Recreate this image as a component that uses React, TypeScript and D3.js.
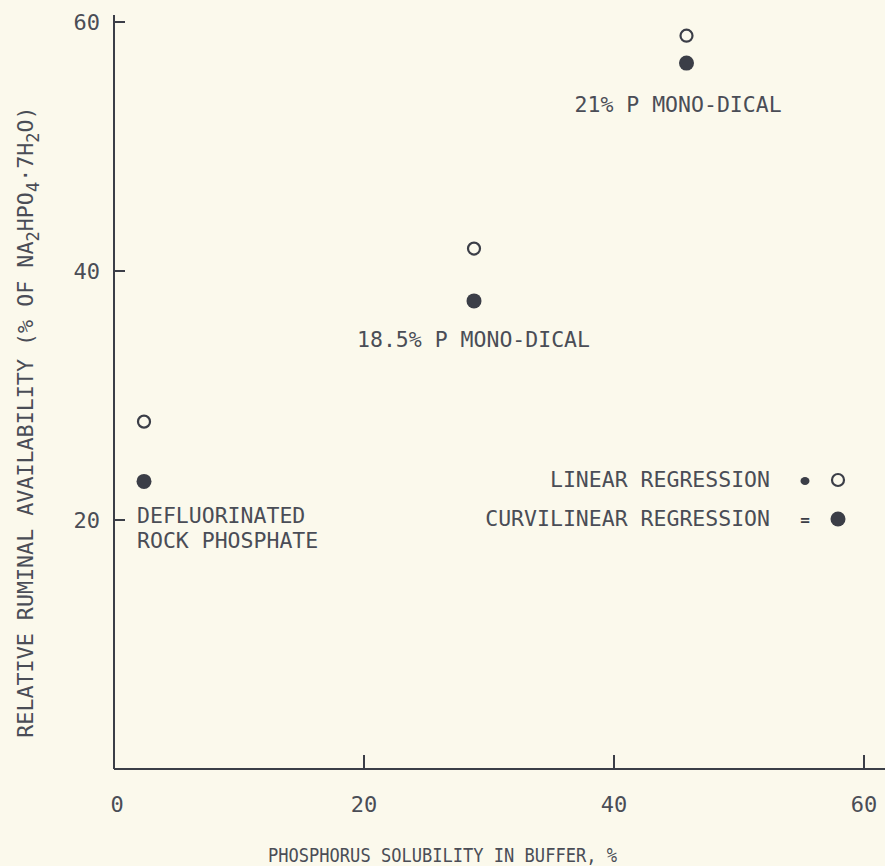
import React, { useEffect, useRef } from "react";
import * as d3 from "d3";

// Phosphorus sources and their buffer solubility (%)
const sources = ["DEFLUORINATED ROCK PHOSPHATE", "18.5% P MONO-DICAL", "21% P MONO-DICAL"];
const solubility = [2.4, 28.8, 45.8];
// Relative ruminal availability estimated by each regression
const linearRA = [27.9, 41.8, 58.9];
const curvilinearRA = [23.1, 37.6, 56.7];

const xTicks = [0, 20, 40, 60];
const yTicks = [20, 40, 60];

const W = 885;
const H = 866;
const PAPER = "#fbf9ec";
const INK = "#3b3e47";
const TEXT = "#4a4d56";
const FONT = "'DejaVu Sans Mono', monospace";
const FS = 21.5;

export default function App() {
  const ref = useRef<SVGSVGElement | null>(null);

  useEffect(() => {
    document.body.style.margin = "0";
    document.body.style.background = PAPER;
    const svg = d3.select(ref.current);
    svg.selectAll("*").remove();

    const x = d3.scaleLinear().domain([0, 60]).range([114, 864]);
    const y = d3.scaleLinear().domain([0, 60]).range([769, 22]);

    svg.append("rect").attr("width", W).attr("height", H).attr("fill", PAPER);

    const g = svg.append("g");

    // axes
    g.append("line")
      .attr("x1", x(0)).attr("x2", x(0))
      .attr("y1", 15).attr("y2", y(0))
      .attr("stroke", INK).attr("stroke-width", 2);
    g.append("line")
      .attr("x1", x(0)).attr("x2", W)
      .attr("y1", y(0)).attr("y2", y(0))
      .attr("stroke", INK).attr("stroke-width", 2);

    // y ticks
    yTicks.forEach((t) => {
      g.append("line")
        .attr("x1", x(0)).attr("x2", x(0) + 11)
        .attr("y1", y(t)).attr("y2", y(t))
        .attr("stroke", INK).attr("stroke-width", 2);
      g.append("text")
        .attr("x", x(0) - 14).attr("y", y(t) + 8)
        .attr("text-anchor", "end")
        .attr("font-family", FONT).attr("font-size", 22)
        .attr("fill", TEXT)
        .text(t);
    });

    // x ticks
    xTicks.forEach((t) => {
      if (t > 0) {
        g.append("line")
          .attr("x1", x(t)).attr("x2", x(t))
          .attr("y1", y(0)).attr("y2", y(0) - 14)
          .attr("stroke", INK).attr("stroke-width", 2);
      }
      g.append("text")
        .attr("x", x(t) + (t === 0 ? 3 : 0)).attr("y", 812)
        .attr("text-anchor", "middle")
        .attr("font-family", FONT).attr("font-size", 22)
        .attr("fill", TEXT)
        .text(t);
    });

    // axis titles
    g.append("text")
      .attr("x", 268).attr("y", 862)
      .attr("font-family", FONT).attr("font-size", 20)
      .attr("textLength", 349)
      .attr("lengthAdjust", "spacingAndGlyphs")
      .attr("fill", TEXT)
      .text("PHOSPHORUS SOLUBILITY IN BUFFER, %");

    const yt = g.append("text")
      .attr("transform", "translate(33,422) rotate(-90)")
      .attr("text-anchor", "middle")
      .attr("font-family", FONT).attr("font-size", 21.7)
      .attr("fill", TEXT);
    const parts: [string, boolean][] = [
      ["RELATIVE RUMINAL AVAILABILITY (% OF NA", false],
      ["2", true],
      ["HPO", false],
      ["4", true],
      ["\u00B77H", false],
      ["2", true],
      ["O)", false],
    ];
    let shifted = false;
    parts.forEach(([s, sub]) => {
      const dy = sub ? 6 : shifted ? -6 : 0;
      yt.append("tspan")
        .attr("font-size", sub ? 17 : 21.7)
        .attr("dy", dy)
        .text(s);
      shifted = sub;
    });

    // points
    solubility.forEach((s, i) => {
      g.append("circle")
        .attr("cx", x(s)).attr("cy", y(linearRA[i]))
        .attr("r", 6)
        .attr("fill", "none")
        .attr("stroke", INK).attr("stroke-width", 2.2);
      g.append("circle")
        .attr("cx", x(s)).attr("cy", y(curvilinearRA[i]))
        .attr("r", 7.5)
        .attr("fill", INK);
    });

    // point labels
    const lbl = (tx: number, ty: number, s: string, anchor = "start") =>
      g.append("text")
        .attr("x", tx).attr("y", ty)
        .attr("text-anchor", anchor)
        .attr("font-family", FONT).attr("font-size", FS)
        .attr("fill", TEXT)
        .text(s);

    lbl(x(solubility[0]) - 7, 523, "DEFLUORINATED");
    lbl(x(solubility[0]) - 7, 548, "ROCK PHOSPHATE");
    lbl(x(solubility[1]) - 117, 347, sources[1]);
    lbl(x(solubility[2]) - 112, 112, sources[2]);

    // legend
    const legend = [
      { label: "LINEAR REGRESSION", filled: false, ly: 487 },
      { label: "CURVILINEAR REGRESSION", filled: true, ly: 526 },
    ];
    legend.forEach((d) => {
      lbl(770, d.ly, d.label, "end");
      if (d.filled) {
        g.append("text")
          .attr("x", 805).attr("y", d.ly - 1)
          .attr("text-anchor", "middle")
          .attr("font-family", FONT).attr("font-size", 16)
          .attr("font-weight", "bold")
          .attr("fill", INK)
          .text("=");
        g.append("circle").attr("cx", 838).attr("cy", d.ly - 7).attr("r", 7.5).attr("fill", INK);
      } else {
        // heavily inked "=" that prints as a blot
        g.append("ellipse")
          .attr("cx", 805).attr("cy", d.ly - 6)
          .attr("rx", 4.5).attr("ry", 4)
          .attr("fill", INK);
        g.append("circle").attr("cx", 838).attr("cy", d.ly - 7).attr("r", 6)
          .attr("fill", "none").attr("stroke", INK).attr("stroke-width", 2.2);
      }
    });
  }, []);

  return (
    <svg
      ref={ref}
      width={W}
      height={H}
      style={{ position: "absolute", left: 0, top: 0, display: "block" }}
    />
  );
}
